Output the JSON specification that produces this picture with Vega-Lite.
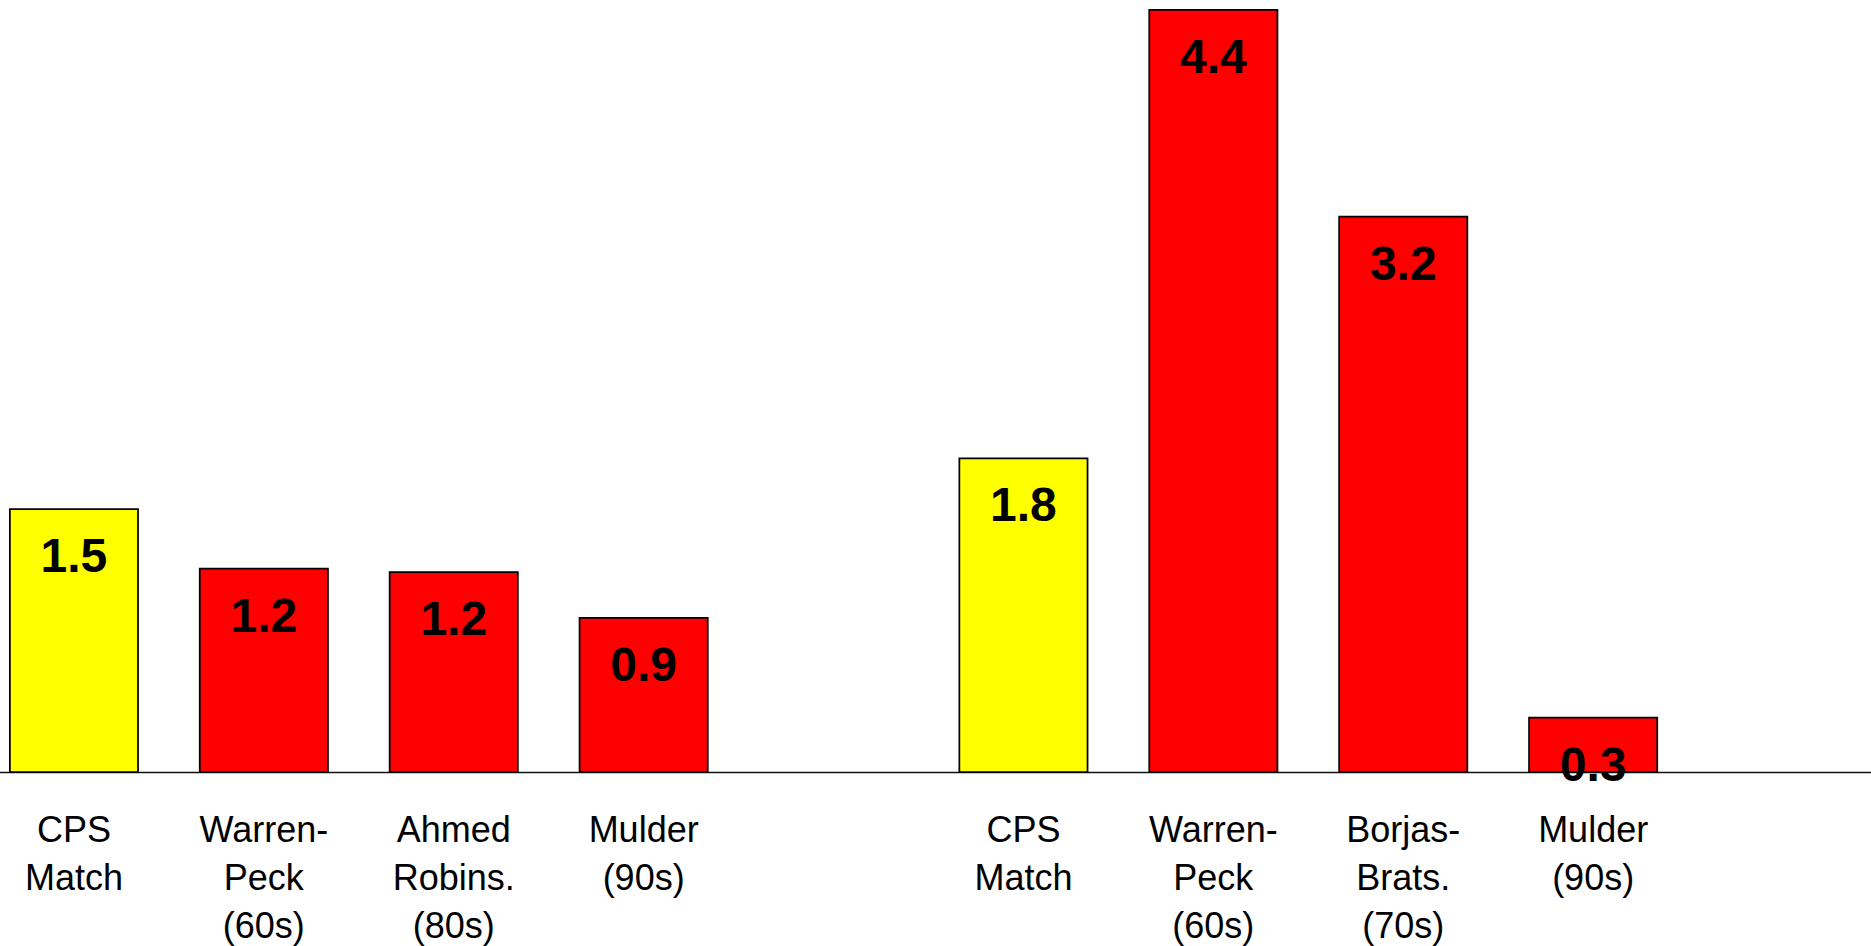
{
  "$schema": "https://vega.github.io/schema/vega-lite/v6.json",
  "autosize": "none",
  "width": 1899,
  "height": 771,
  "padding": {"left": -21, "top": 1, "right": -7, "bottom": 174},
  "background": "white",
  "config": {"view": {"stroke": null}, "font": "Liberation Sans"},
  "data": {
    "values": [
      {"slot": "1|CPS|Match", "value": 1.5, "label": "1.5", "kind": "CPS"},
      {"slot": "2|Warren-|Peck|(60s)", "value": 1.16, "label": "1.2", "kind": "Other"},
      {"slot": "3|Ahmed|Robins.|(80s)", "value": 1.14, "label": "1.2", "kind": "Other"},
      {"slot": "4|Mulder|(90s)", "value": 0.88, "label": "0.9", "kind": "Other"},
      {"slot": "6|CPS|Match", "value": 1.79, "label": "1.8", "kind": "CPS"},
      {"slot": "7|Warren-|Peck|(60s)", "value": 4.35, "label": "4.4", "kind": "Other"},
      {"slot": "8|Borjas-|Brats.|(70s)", "value": 3.17, "label": "3.2", "kind": "Other"},
      {"slot": "9|Mulder|(90s)", "value": 0.31, "label": "0.3", "kind": "Other"}
    ]
  },
  "encoding": {
    "x": {
      "field": "slot",
      "type": "nominal",
      "sort": null,
      "scale": {
        "domain": ["1|CPS|Match", "2|Warren-|Peck|(60s)", "3|Ahmed|Robins.|(80s)", "4|Mulder|(90s)", "5|", "6|CPS|Match", "7|Warren-|Peck|(60s)", "8|Borjas-|Brats.|(70s)", "9|Mulder|(90s)", "10|"],
        "paddingInner": 0.325,
        "paddingOuter": 0.1625
      },
      "axis": {
        "title": null,
        "labelAngle": 0,
        "ticks": false,
        "domainColor": "#111111",
        "domainWidth": 1.5,
        "labelFont": "Liberation Sans",
        "labelFontSize": 36,
        "labelColor": "black",
        "labelPadding": 41,
        "labelBaseline": "top",
        "labelLineHeight": 48,
        "labelOverlap": false,
        "labelBound": false,
        "labelLimit": 400,
        "labelExpr": "slice(split(datum.value, '|'), 1)"
      }
    },
    "y": {
      "field": "value",
      "type": "quantitative",
      "scale": {"domain": [0, 4.4], "nice": false, "zero": true},
      "axis": null
    }
  },
  "layer": [
    {
      "mark": {"type": "bar", "stroke": "black", "strokeWidth": 1.75},
      "encoding": {
        "color": {
          "field": "kind",
          "type": "nominal",
          "scale": {"domain": ["CPS", "Other"], "range": ["#FFFF00", "#FF0000"]},
          "legend": null
        }
      }
    },
    {
      "mark": {"type": "text", "baseline": "alphabetic", "dy": 63, "fontSize": 48, "fontWeight": "bold", "color": "black", "font": "Liberation Sans"},
      "encoding": {"text": {"field": "label"}}
    }
  ]
}
